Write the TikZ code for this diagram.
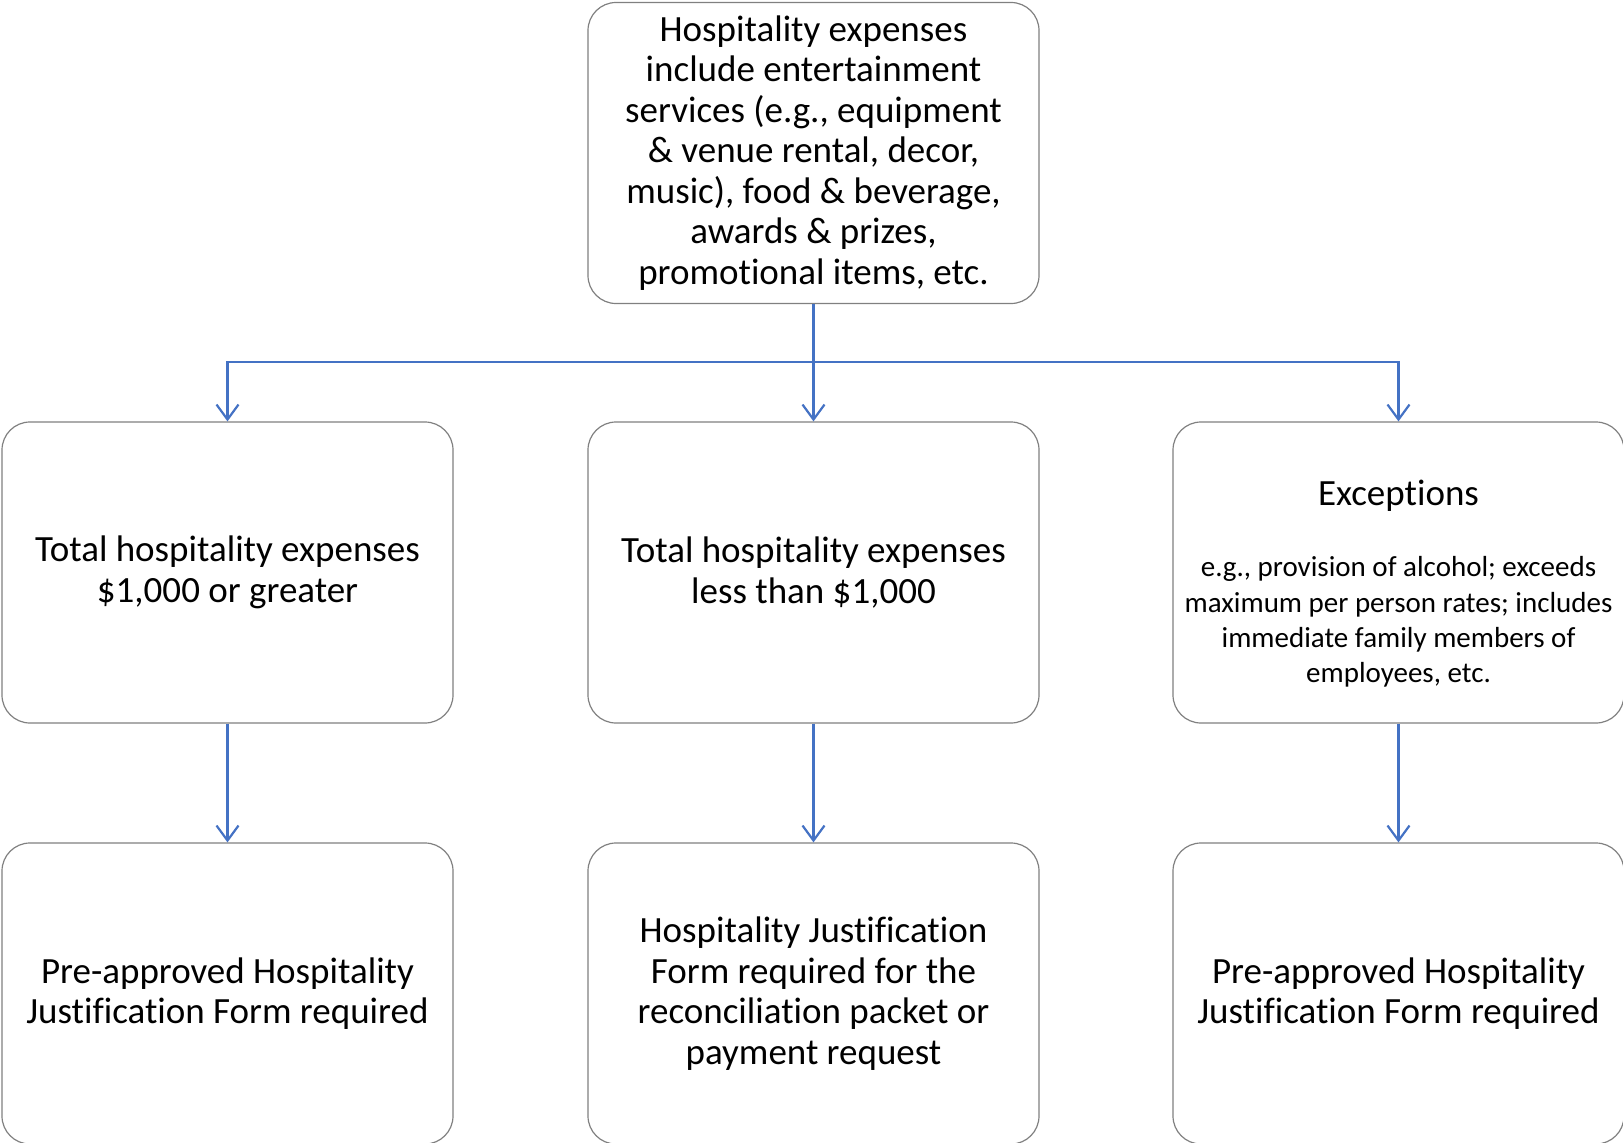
\documentclass[tikz,border=0pt]{standalone}
\usepackage{fontspec}
\setmainfont{Carlito}[Ligatures=NoCommon]
\usetikzlibrary{arrows.meta}
\definecolor{boxgray}{RGB}{128,128,128}
\definecolor{arrblue}{RGB}{68,114,196}
\tikzset{
  box/.style={draw=boxgray, line width=1.2pt, rounded corners=28pt,
    minimum width=451pt, minimum height=301pt, inner sep=0pt,
    align=center, font=\fontsize{37}{40.5}\selectfont},
  txt/.style={align=center, inner sep=0pt, font=\fontsize{37}{40.5}\selectfont},
  smalltxt/.style={align=center, inner sep=0pt, font=\fontsize{29}{35.2}\selectfont},
  arr/.style={draw=arrblue, line width=2.2pt,
    -{Straight Barb[length=15pt,width=22pt,line width=2.2pt]}},
  conn/.style={draw=arrblue, line width=2.2pt}
}
\begin{document}
\begin{tikzpicture}[x=1pt,y=-1pt]
\useasboundingbox (0,0) rectangle (1623,1143);
\node[box] (top) at (813.5,153) {Hospitality expenses\\include entertainment\\services (e.g., equipment\\\& venue rental, decor,\\music), food \& beverage,\\awards \& prizes,\\promotional items, etc.};
\node[box] (l1) at (227.5,572.5) {Total hospitality expenses\\\$1,000 or greater};
\node[box] (m1) at (813.5,572.5) {Total hospitality expenses\\less than \$1,000};
\node[box] (r1) at (1398.5,572.5) {};
\node[txt] (r1a) at (1398.5,496) {Exceptions};
\node[smalltxt] (r1b) at (1398.5,622) {e.g., provision of alcohol; exceeds\\maximum per person rates; includes\\immediate family members of\\employees, etc.};
\node[box] (l2) at (227.5,993.5) {Pre-approved Hospitality\\Justification Form required};
\node[box] (m2) at (813.5,993.5) {Hospitality Justification\\Form required for the\\reconciliation packet or\\payment request};
\node[box] (r2) at (1398.5,993.5) {Pre-approved Hospitality\\Justification Form required};
\coordinate (jn) at (813.5,362);
\draw[conn] (top.south) -- (jn);
\draw[arr] (jn) -| (l1.north);
\draw[arr] (jn) -| (r1.north);
\draw[arr] (jn) -- (m1.north);
\draw[arr] (l1.south) -- (l2.north);
\draw[arr] (m1.south) -- (m2.north);
\draw[arr] (r1.south) -- (r2.north);
\end{tikzpicture}
\end{document}
